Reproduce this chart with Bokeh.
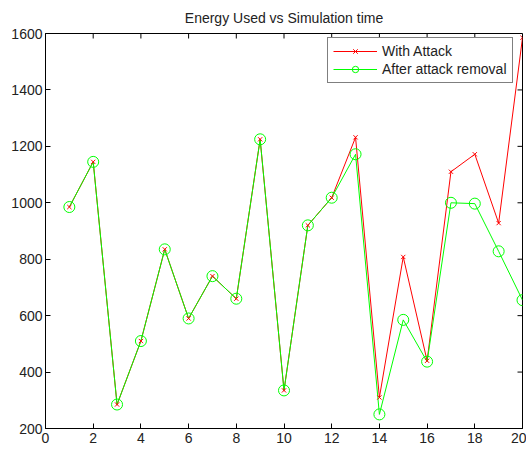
import math
from bokeh.plotting import figure
from bokeh.models import Range1d, FixedTicker, Legend, LegendItem
from bokeh.embed import file_html
from bokeh.resources import INLINE

time = list(range(1, 21))
with_attack = [985, 1145, 285, 510, 835, 590, 740, 660, 1225, 335,
               920, 1018, 1232, 310, 808, 440, 1110, 1172, 928, 1585]
after_removal = [985, 1145, 285, 510, 835, 590, 740, 660, 1225, 335,
                 920, 1018, 1172, 250, 585, 437, 1000, 997, 828, 655]
x_ticks = list(range(0, 21, 2))
y_ticks = list(range(200, 1601, 200))
x_min, x_max = 0, 20
y_min, y_max = 200, 1600

FONT = "Liberation Sans"

p = figure(width=526, height=449, output_backend="svg", toolbar_location=None,
           x_range=Range1d(x_min, x_max), y_range=Range1d(y_min, y_max),
           min_border_left=45, min_border_right=4, min_border_top=0,
           min_border_bottom=21, title="Energy Used vs Simulation time")
p.title.text_font = FONT
p.title.text_font_size = "14px"
p.title.text_font_style = "normal"
p.title.align = "center"
p.title.text_color = "#222222"
p.title.offset = 0
p.title.standoff = 15
p.xgrid.visible = False
p.ygrid.visible = False
p.outline_line_color = "black"
p.outline_line_width = 1
p.background_fill_color = "white"
p.border_fill_color = "white"

for ax in (p.xaxis[0], p.yaxis[0]):
    ax.major_tick_in = 5
    ax.major_tick_out = 0
    ax.minor_tick_in = 0
    ax.minor_tick_out = 0
    ax.major_label_text_font = FONT
    ax.major_label_text_font_size = "14px"
    ax.major_label_text_color = "#222222"
    ax.axis_line_color = "black"
    ax.major_tick_line_color = "black"
p.xaxis[0].ticker = FixedTicker(ticks=x_ticks)
p.yaxis[0].ticker = FixedTicker(ticks=y_ticks)
p.xaxis[0].major_label_standoff = 4
p.yaxis[0].major_label_standoff = 3

r_line = p.line(time, with_attack, line_color="#ff0000", line_width=1)
g_line = p.line(time, after_removal, line_color="#00ff00", line_width=1)
g_mark = p.scatter(time, after_removal, marker="circle", size=11, fill_color=None,
                   line_color="#00ff00", line_width=1)
r_mark = p.scatter(time, with_attack, marker="x", size=6, line_color="#ff0000", line_width=1)

# inward ticks on the top and right edges of the box
p.ray(x=x_ticks, y=[y_max] * len(x_ticks), length=5, length_units="screen",
      angle=-math.pi / 2, line_color="black", line_width=1)
p.ray(x=[x_max] * len(y_ticks), y=y_ticks, length=5, length_units="screen",
      angle=math.pi, line_color="black", line_width=1)

legend = Legend(items=[LegendItem(label="With Attack", renderers=[r_line, r_mark]),
                       LegendItem(label="After attack removal", renderers=[g_line, g_mark])],
                location=(282, 345), margin=0, padding=5, spacing=2,
                glyph_width=44, glyph_height=16, label_height=16, label_standoff=5,
                label_text_font=FONT, label_text_font_size="14px", label_text_color="#222222",
                border_line_color="black", border_line_width=1, background_fill_alpha=1)
p.add_layout(legend, "center")

open("out.html", "w").write(file_html(p, INLINE))
